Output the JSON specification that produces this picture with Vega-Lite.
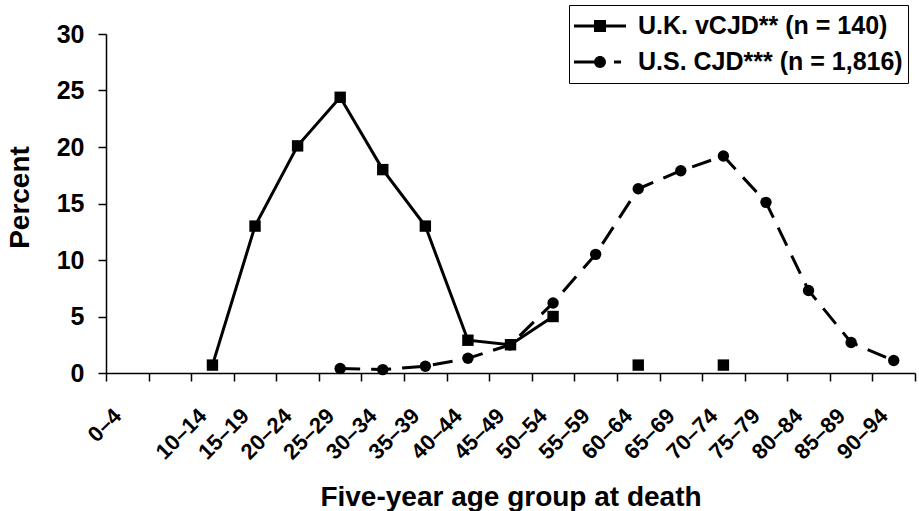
{
  "$schema": "https://vega.github.io/schema/vega-lite/v6.json",
  "width": 809,
  "height": 339,
  "autosize": {"type": "none"},
  "padding": {"left": 106, "top": 34, "right": 4, "bottom": 138},
  "background": "white",
  "config": {"view": {"stroke": null}, "font": "Liberation Sans"},
  "data": {
    "values": [
      {"age": "10–14", "series": "U.K. vCJD** (n = 140)", "pct": 0.7},
      {"age": "15–19", "series": "U.K. vCJD** (n = 140)", "pct": 13.0},
      {"age": "20–24", "series": "U.K. vCJD** (n = 140)", "pct": 20.1},
      {"age": "25–29", "series": "U.K. vCJD** (n = 140)", "pct": 24.4},
      {"age": "30–34", "series": "U.K. vCJD** (n = 140)", "pct": 18.0},
      {"age": "35–39", "series": "U.K. vCJD** (n = 140)", "pct": 13.0},
      {"age": "40–44", "series": "U.K. vCJD** (n = 140)", "pct": 2.9},
      {"age": "45–49", "series": "U.K. vCJD** (n = 140)", "pct": 2.5},
      {"age": "50–54", "series": "U.K. vCJD** (n = 140)", "pct": 5.0},
      {"age": "55–59", "series": "U.K. vCJD** (n = 140)", "pct": null},
      {"age": "60–64", "series": "U.K. vCJD** (n = 140)", "pct": 0.7},
      {"age": "65–69", "series": "U.K. vCJD** (n = 140)", "pct": null},
      {"age": "70–74", "series": "U.K. vCJD** (n = 140)", "pct": 0.7},
      {"age": "25–29", "series": "U.S. CJD*** (n = 1,816)", "pct": 0.4},
      {"age": "30–34", "series": "U.S. CJD*** (n = 1,816)", "pct": 0.3},
      {"age": "35–39", "series": "U.S. CJD*** (n = 1,816)", "pct": 0.6},
      {"age": "40–44", "series": "U.S. CJD*** (n = 1,816)", "pct": 1.3},
      {"age": "45–49", "series": "U.S. CJD*** (n = 1,816)", "pct": 2.5},
      {"age": "50–54", "series": "U.S. CJD*** (n = 1,816)", "pct": 6.2},
      {"age": "55–59", "series": "U.S. CJD*** (n = 1,816)", "pct": 10.5},
      {"age": "60–64", "series": "U.S. CJD*** (n = 1,816)", "pct": 16.3},
      {"age": "65–69", "series": "U.S. CJD*** (n = 1,816)", "pct": 17.9},
      {"age": "70–74", "series": "U.S. CJD*** (n = 1,816)", "pct": 19.2},
      {"age": "75–79", "series": "U.S. CJD*** (n = 1,816)", "pct": 15.1},
      {"age": "80–84", "series": "U.S. CJD*** (n = 1,816)", "pct": 7.3},
      {"age": "85–89", "series": "U.S. CJD*** (n = 1,816)", "pct": 2.7},
      {"age": "90–94", "series": "U.S. CJD*** (n = 1,816)", "pct": 1.1}
    ]
  },
  "encoding": {
    "x": {
      "field": "age",
      "type": "ordinal",
      "sort": ["0–4","5–9","10–14","15–19","20–24","25–29","30–34","35–39","40–44","45–49","50–54","55–59","60–64","65–69","70–74","75–79","80–84","85–89","90–94"],
      "scale": {
        "type": "band",
        "domain": ["0–4","5–9","10–14","15–19","20–24","25–29","30–34","35–39","40–44","45–49","50–54","55–59","60–64","65–69","70–74","75–79","80–84","85–89","90–94"],
        "paddingInner": 0,
        "paddingOuter": 0
      },
      "axis": {
        "title": "Five-year age group at death",
        "tickBand": "extent",
        "labelAngle": -45,
        "labelAlign": "right",
        "labelBaseline": "middle",
        "labelFont": "Liberation Sans",
        "labelFontSize": 22,
        "labelFontWeight": "bold",
        "labelColor": "black",
        "labelPadding": 31,
        "labelOffset": -10,
        "labelOverlap": false,
        "labelBound": false,
        "labelExpr": "datum.value === '5–9' ? '' : datum.value",
        "tickSize": 8,
        "tickColor": "black",
        "tickWidth": 1.5,
        "domainColor": "black",
        "domainWidth": 1.5,
        "titleFont": "Liberation Sans",
        "titleFontSize": 28,
        "titleFontWeight": "bold",
        "titleColor": "black",
        "titleY": 132,
        "titleBaseline": "alphabetic"
      }
    },
    "y": {
      "field": "pct",
      "type": "quantitative",
      "scale": {"domain": [0, 30], "nice": false},
      "axis": {
        "title": "Percent",
        "values": [0, 5, 10, 15, 20, 25, 30],
        "grid": false,
        "domainColor": "black",
        "domainWidth": 1.5,
        "tickColor": "black",
        "tickWidth": 1.5,
        "tickSize": 8,
        "labelFont": "Liberation Sans",
        "labelFontSize": 25,
        "labelFontWeight": "bold",
        "labelColor": "black",
        "labelPadding": 14,
        "titleFont": "Liberation Sans",
        "titleFontSize": 28,
        "titleFontWeight": "bold",
        "titleColor": "black",
        "titleX": -78,
        "titleY": 163,
        "titleAngle": -90,
        "titleBaseline": "alphabetic",
        "titleAlign": "center"
      }
    }
  },
  "layer": [
    {
      "transform": [{"filter": "datum.series === 'U.K. vCJD** (n = 140)'"}],
      "mark": {"type": "line", "color": "black", "strokeWidth": 3, "strokeCap": "butt"},
      "encoding": {}
    },
    {
      "transform": [{"filter": "datum.series === 'U.S. CJD*** (n = 1,816)'"}],
      "mark": {"type": "line", "color": "black", "strokeWidth": 3, "strokeCap": "butt", "strokeDash": [20, 11]},
      "encoding": {}
    },
    {
      "mark": {"type": "point", "filled": true, "color": "black", "opacity": 1, "size": 130},
      "encoding": {
        "shape": {
          "field": "series",
          "type": "nominal",
          "scale": {"domain": ["U.K. vCJD** (n = 140)", "U.S. CJD*** (n = 1,816)"], "range": ["square", "circle"]},
          "legend": null
        }
      }
    },
    {
      "transform": [{"filter": "false"}],
      "mark": {"type": "point", "filled": true, "color": "black", "opacity": 1, "size": 2704},
      "encoding": {
        "shape": {
          "field": "series",
          "type": "nominal",
          "scale": {
            "domain": ["U.K. vCJD** (n = 140)", "U.S. CJD*** (n = 1,816)"],
            "range": [
              "M-1,-0.06L1,-0.06L1,0.06L-1,0.06Z M-0.23,-0.23L0.23,-0.23L0.23,0.23L-0.23,0.23Z",
              "M-1,-0.06L0,-0.06L0,0.06L-1,0.06Z M-0.23,0A0.23,0.23 0 1,1 0.23,0A0.23,0.23 0 1,1 -0.23,0Z M0.54,-0.06L0.81,-0.06L0.81,0.06L0.54,0.06Z"
            ]
          },
          "legend": {
            "orient": "none",
            "legendX": 463,
            "legendY": -29,
            "title": null,
            "padding": 5,
            "strokeColor": "black",
            "fillColor": "white",
            "labelFont": "Liberation Sans",
            "labelFontSize": 25,
            "labelFontWeight": "bold",
            "labelColor": "black",
            "labelLimit": 0,
            "labelOffset": 12,
            "symbolSize": 2704,
            "symbolStrokeWidth": 0,
            "symbolFillColor": "black",
            "symbolOpacity": 1,
            "clipHeight": 32,
            "rowPadding": 4,
            "encode": {
              "legend": {
                "update": {
                  "strokeWidth": {"value": 2}
                }
              }
            }
          }
        }
      }
    }
  ],
  "resolve": {"scale": {"shape": "independent"}, "legend": {"shape": "independent"}}
}
